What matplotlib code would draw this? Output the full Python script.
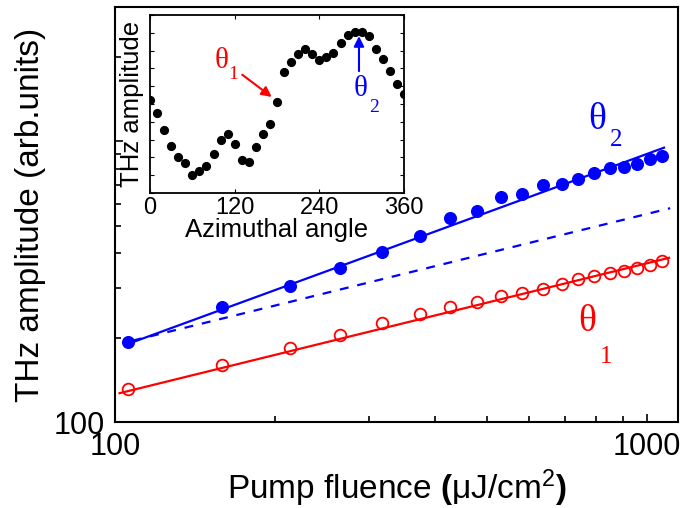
import numpy as np
import matplotlib
matplotlib.use('Agg')
from matplotlib import pyplot as plt
from matplotlib.ticker import LogLocator, NullFormatter, FixedLocator, FixedFormatter

plt.rcParams['font.family'] = ['Liberation Sans', 'DejaVu Sans']
plt.rcParams['mathtext.fontset'] = 'custom'
plt.rcParams['mathtext.rm'] = 'Liberation Sans'
plt.rcParams['mathtext.bf'] = 'Liberation Sans:bold'
plt.rcParams['mathtext.it'] = 'Liberation Sans:italic'

# 主图数据：泵浦通量 vs THz 振幅
fluence = [106, 159, 213, 265, 318, 375, 426, 478, 531, 583,
           638, 691, 742, 796, 852, 903, 958, 1012, 1066]
amp_theta2 = [192, 256, 304, 354, 402, 459, 534, 564, 632, 647,
              696, 706, 736, 773, 806, 812, 832, 863, 886]
amp_theta1 = [131, 160, 183, 204, 226, 242, 256, 268, 280, 288,
              298, 311, 323, 330, 340, 346, 354, 364, 374]

# 拟合直线 y = A * (x/100)^k
fit_theta2 = (182.5, 0.694, 106, 1076)
fit_theta1 = (125.5, 0.467, 102, 1100)
fit_dash = (188.1, 0.467, 108, 1105)

# 插图数据：方位角扫描
angle = [0, 10, 20, 30, 40, 50, 60, 70, 80, 90, 100, 110, 120, 130, 140, 150,
         160, 170, 180, 190, 200, 210, 220, 230, 240, 250, 260, 270, 280, 290,
         300, 310, 320, 330, 340, 350, 360]
azim_amp = [5.25, 4.47, 3.56, 2.65, 2.03, 1.69, 1.03, 1.22, 1.50, 2.18, 2.96,
            3.34, 2.74, 1.88, 1.74, 2.59, 3.34, 3.86, 5.12, 6.81, 7.34, 7.80,
            8.07, 7.79, 7.50, 7.65, 7.84, 8.41, 8.87, 9.06, 9.06, 8.84, 8.07,
            7.54, 6.87, 6.15, 5.55]

BLUE = '#0000ff'
RED = '#ff0000'


def fit_line(ax, params, **kw):
    a, k, x0, x1 = params
    x = np.array([x0, x1], dtype=float)
    ax.plot(x, a * (x / 100.0) ** k, **kw)


fig = plt.figure(figsize=(6.84, 5.08), dpi=100)
ax = fig.add_axes([115 / 684, 1 - 422 / 508, 563 / 684, 415 / 508])

fit_line(ax, fit_theta2, color=BLUE, lw=1.6)
fit_line(ax, fit_dash, color=BLUE, lw=1.6, ls=(0, (4, 4)))
fit_line(ax, fit_theta1, color=RED, lw=1.6)
ax.plot(fluence, amp_theta2, 'o', color=BLUE, ms=8.4, zorder=3)
ax.plot(fluence, amp_theta1, 'o', mfc='none', mec=RED, mew=1.3, ms=8.4, zorder=3)

ax.set_xscale('log')
ax.set_yscale('log')
ax.set_xlim(100, 1143)
ax.set_ylim(100, 3010)
ax.xaxis.set_major_locator(FixedLocator([100, 1000]))
ax.xaxis.set_major_formatter(FixedFormatter(['100', '1000']))
ax.xaxis.set_minor_locator(LogLocator(base=10, subs=np.arange(2, 10)))
ax.xaxis.set_minor_formatter(NullFormatter())
ax.yaxis.set_major_locator(FixedLocator([100, 1000]))
ax.yaxis.set_major_formatter(FixedFormatter(['100', '']))
ax.yaxis.set_minor_locator(LogLocator(base=10, subs=np.arange(2, 10)))
ax.yaxis.set_minor_formatter(NullFormatter())
ax.tick_params(which='both', direction='in', labelsize=22, pad=7, width=1.2)
ax.tick_params(which='major', length=6)
ax.tick_params(which='minor', length=4)
for s in ax.spines.values():
    s.set_linewidth(1.5)

ax.set_xlabel(r'Pump fluence $\mathbf{(}$μJ/cm$^{2}\mathbf{)}$', fontsize=24, labelpad=4)
ax.set_ylabel('THz amplitude (arb.units)', fontsize=24, labelpad=6)

# θ 标注
ax.text(805, 1198, 'θ', color=BLUE, fontsize=27, family='Liberation Serif', ha='center', va='center')
ax.text(874, 1008, '2', color=BLUE, fontsize=18, family='Liberation Serif', ha='center', va='center')
ax.text(771, 228, 'θ', color=RED, fontsize=27, family='Liberation Serif', ha='center', va='center')
ax.text(837, 171, '1', color=RED, fontsize=18, family='Liberation Serif', ha='center', va='center')

# 插图
ins = fig.add_axes([150 / 684, 1 - 193 / 508, 254 / 684, 178 / 508])
ins.plot(angle, azim_amp, 'o', color='black', ms=5.6)
ins.set_xlim(0, 360)
ins.set_ylim(0, 10)
ins.set_xticks([0, 120, 240, 360])
ins.set_yticks(np.arange(0, 11))
ins.set_yticklabels([])
ins.tick_params(direction='in', top=True, right=True, length=3, labelsize=17, pad=3)
for s in ins.spines.values():
    s.set_linewidth(1.3)
ins.set_xlabel('Azimuthal angle', fontsize=18.5, labelpad=-1)
ins.set_ylabel('THz amplitude', fontsize=18.5, labelpad=1)

ins.annotate('', xy=(175.7, 5.3), xytext=(127.6, 6.74),
             arrowprops=dict(arrowstyle='-|>', color=RED, lw=1.5, mutation_scale=15))
ins.annotate('', xy=(296.2, 8.97), xytext=(296.2, 6.69),
             arrowprops=dict(arrowstyle='-|>', color=BLUE, lw=1.5, mutation_scale=15))
ins.text(102, 7.42, 'θ', color=RED, fontsize=21, family='Liberation Serif', ha='center', va='center')
ins.text(117.6, 6.63, '1', color=RED, fontsize=14, family='Liberation Serif', ha='center', va='center')
ins.text(299, 5.84, 'θ', color=BLUE, fontsize=21, family='Liberation Serif', ha='center', va='center')
ins.text(317.5, 4.83, '2', color=BLUE, fontsize=14, family='Liberation Serif', ha='center', va='center')

fig.savefig('out.png', dpi=100)
